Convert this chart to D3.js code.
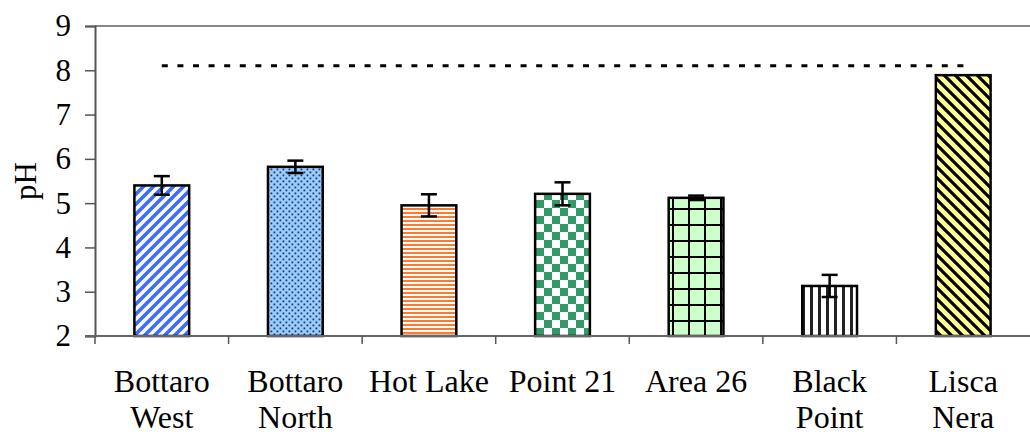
<!DOCTYPE html>
<html><head><meta charset="utf-8">
<script src="https://cdn.jsdelivr.net/npm/d3@7"></script>
<style>body{margin:0;background:#fff}svg{display:block}text{font-family:"Liberation Serif","Times New Roman",serif;fill:#000}</style>
</head><body><svg id="c" width="1030" height="435"></svg>
<script>
const categories = [["Bottaro","West"],["Bottaro","North"],["Hot Lake"],["Point 21"],["Area 26"],["Black","Point"],["Lisca","Nera"]];
const phValues = [5.4, 5.82, 4.95, 5.21, 5.12, 3.13, 7.89];
const phErrors = [0.21, 0.14, 0.25, 0.26, 0.05, 0.25, 0];
const seawaterPH = [8.1, 8.1, 8.1, 8.1, 8.1, 8.1, 8.1];
const yTicks = [2,3,4,5,6,7,8,9];

const W=1030,H=435,m={l:95,r:0,t:26,b:99};
const svg=d3.select("#c");
const defs=svg.append("defs");
function pat(id,w,h,draw){const p=defs.append("pattern").attr("id",id).attr("patternUnits","userSpaceOnUse").attr("width",w).attr("height",h);draw(p);}
pat("p0",10,10,p=>{p.append("rect").attr("width",10).attr("height",10).attr("fill","#fff");
  p.append("path").attr("d","M-5,5 L5,-5 M0,10 L10,0 M5,15 L15,5").attr("stroke","#3d6cff").attr("stroke-width",3.6);});
pat("p1",6,6,p=>{p.append("rect").attr("width",6).attr("height",6).attr("fill","#99ccff");
  p.append("rect").attr("x",0.5).attr("y",0.5).attr("width",1.8).attr("height",1.8).attr("fill","#1f3a66");
  p.append("rect").attr("x",3.5).attr("y",3.5).attr("width",1.8).attr("height",1.8).attr("fill","#1f3a66");});
pat("p2",4,4,p=>{p.append("rect").attr("width",4).attr("height",4).attr("fill","#fff");
  p.append("rect").attr("y",0).attr("width",4).attr("height",2).attr("fill","#ff7a2e");});
pat("p3",16,16,p=>{p.append("rect").attr("width",16).attr("height",16).attr("fill","#fff");
  p.append("rect").attr("width",8).attr("height",8).attr("fill","#339966");
  p.append("rect").attr("x",8).attr("y",8).attr("width",8).attr("height",8).attr("fill","#339966");});
pat("p4",16,16,p=>{p.append("rect").attr("width",16).attr("height",16).attr("fill","#ccffcc");
  p.append("rect").attr("x",0).attr("width",2).attr("height",16).attr("fill","#000");
  p.append("rect").attr("y",0).attr("width",16).attr("height",2).attr("fill","#000");});
pat("p5",8,8,p=>{p.append("rect").attr("width",8).attr("height",8).attr("fill","#fff");
  p.append("rect").attr("x",2).attr("width",3).attr("height",8).attr("fill","#222");});
pat("p6",11,11,p=>{p.append("rect").attr("width",11).attr("height",11).attr("fill","#ffff99");
  p.append("path").attr("d","M-5.5,5.5 L5.5,16.5 M0,0 L11,11 M5.5,-5.5 L16.5,5.5").attr("stroke","#000").attr("stroke-width",3.2);});

const x=d3.scaleBand().domain(d3.range(categories.length)).range([m.l,W-m.r]).paddingInner(0).paddingOuter(0);
const y=d3.scaleLinear().domain([2,9]).range([H-m.b,m.t]);
const bw=x.bandwidth()*0.41;

svg.append("line").attr("x1",m.l).attr("x2",W).attr("y1",y(9)).attr("y2",y(9)).attr("stroke","#888").attr("stroke-width",2);

svg.append("g").selectAll("rect").data(phValues).join("rect")
  .attr("x",(d,i)=>x(i)+x.bandwidth()/2-bw/2).attr("width",bw)
  .attr("y",d=>y(d)).attr("height",d=>y(2)-y(d))
  .attr("fill",(d,i)=>`url(#p${i})`).attr("stroke","#000").attr("stroke-width",2.5);

const eg=svg.append("g").attr("stroke","#000").attr("stroke-width",2.5);
phValues.forEach((v,i)=>{const e=phErrors[i];if(!e)return;const cx=x(i)+x.bandwidth()/2;
  eg.append("line").attr("x1",cx).attr("x2",cx).attr("y1",y(v+e)).attr("y2",y(v-e));
  eg.append("line").attr("x1",cx-8).attr("x2",cx+8).attr("y1",y(v+e)).attr("y2",y(v+e));
  eg.append("line").attr("x1",cx-8).attr("x2",cx+8).attr("y1",y(v-e)).attr("y2",y(v-e));});

svg.append("path").datum(seawaterPH)
  .attr("d",d3.line().x((d,i)=>x(i)+x.bandwidth()/2+(i===seawaterPH.length-1?4:0)).y(d=>y(d)))
  .attr("fill","none").attr("stroke","#000").attr("stroke-width",3).attr("stroke-dasharray","6,9.6");

const ya=svg.append("g").attr("transform",`translate(${m.l},0)`)
  .call(d3.axisLeft(y).tickValues(yTicks).tickSize(10).tickPadding(14).tickFormat(d3.format("d")));
ya.attr("font-family",null);
ya.select(".domain").attr("stroke","#555").attr("stroke-width",2);
ya.selectAll(".tick line").attr("stroke","#555").attr("stroke-width",1.5);
ya.selectAll("text").attr("font-size",31).attr("fill","#000");

const xa=svg.append("g").attr("transform",`translate(0,${y(2)})`);
xa.append("line").attr("x1",m.l-10).attr("x2",W).attr("stroke","#666").attr("stroke-width",2);
d3.range(categories.length).forEach(i=>{const xx=x(i);
  xa.append("line").attr("x1",xx).attr("x2",xx).attr("y1",0).attr("y2",8).attr("stroke","#555").attr("stroke-width",1.5);});
categories.forEach((c,i)=>{const t=xa.append("text").attr("text-anchor","middle").attr("font-size",32)
  .attr("x",x(i)+x.bandwidth()/2).attr("y",56);
  c.forEach((s,j)=>t.append("tspan").attr("x",x(i)+x.bandwidth()/2).attr("dy",j?36:0).text(s));});

svg.append("text").attr("transform",`translate(36,${(y(2)+y(9))/2}) rotate(-90)`).attr("text-anchor","middle").attr("font-size",31).text("pH");
</script></body></html>
